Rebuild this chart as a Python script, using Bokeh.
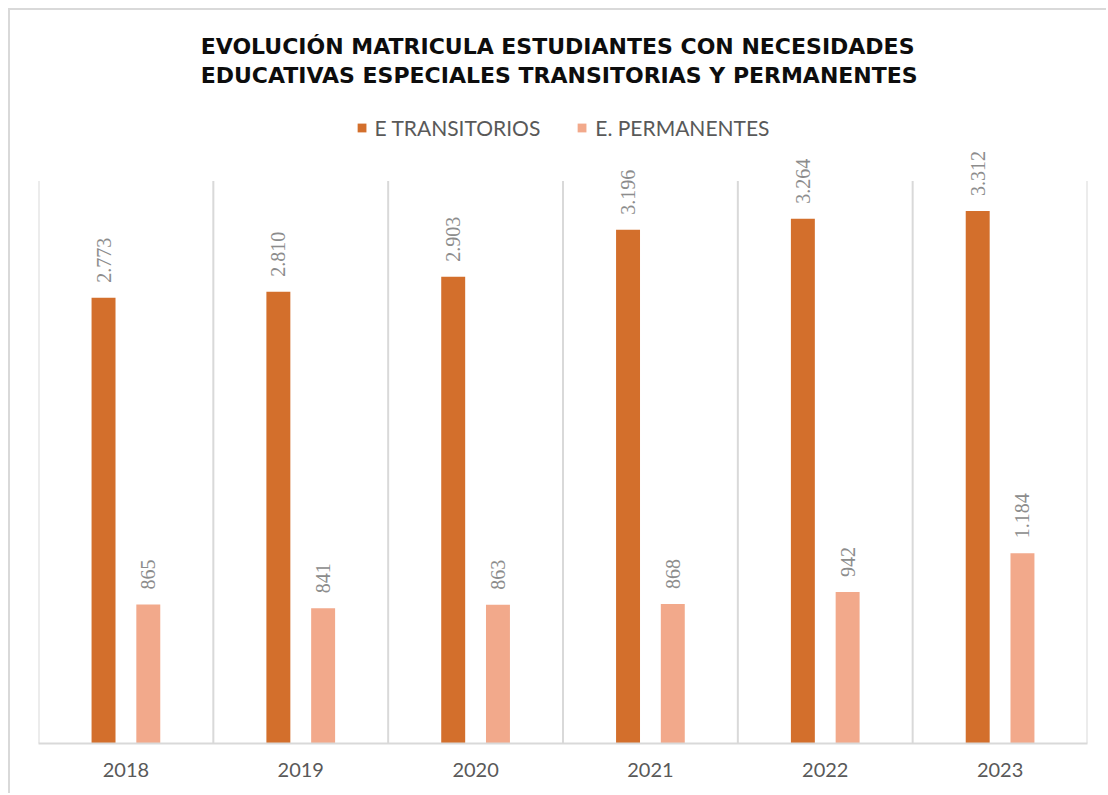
from math import pi
from bokeh.plotting import figure
from bokeh.models import (ColumnDataSource, LabelSet, Legend, LegendItem, Title,
                          FactorRange, Range1d)
from bokeh.transform import dodge
from bokeh.embed import file_html
from bokeh.resources import INLINE

# ---- data ----
years = ["2018", "2019", "2020", "2021", "2022", "2023"]
transitorios = [2773, 2810, 2903, 3196, 3264, 3312]
permanentes = [865, 841, 863, 868, 942, 1184]
series_names = ["E TRANSITORIOS", "E. PERMANENTES"]
title_lines = ["EVOLUCIÓN MATRICULA ESTUDIANTES CON NECESIDADES",
               "EDUCATIVAS ESPECIALES TRANSITORIAS Y  PERMANENTES"]
axis_max = 3500

ORANGE = "#D36F2C"
PEACH = "#F2A98B"
GRID = "#d9d9d9"
FONT = "Lato"


def fmt(v):
    return f"{v:,}".replace(",", ".")


src = ColumnDataSource(dict(
    year=years, t=transitorios, p=permanentes,
    tl=[fmt(v) for v in transitorios], pl=[fmt(v) for v in permanentes]))

p = figure(x_range=FactorRange(*years, range_padding=0),
           y_range=Range1d(0, 4000),
           width=1098, height=785, output_backend="svg", toolbar_location=None,
           title_location=None,
           min_border_left=28, min_border_right=21, min_border_bottom=52,
           min_border_top=90,
           styles={"margin-left": "8px", "margin-top": "8px",
                   "border-left": "2px solid #d9d9d9",
                   "border-top": "2px solid #d9d9d9"})

# category dividers (vertical lines between years), up to the value-axis max
bounds = list(range(len(years) + 1))
p.segment(x0=bounds, x1=bounds, y0=[0] * len(bounds), y1=[axis_max] * len(bounds),
          line_color=GRID, line_width=2)

OFF = 0.128
W = 0.137
r1 = p.vbar(x=dodge("year", -OFF, range=p.x_range), top="t", width=W,
            source=src, fill_color=ORANGE, line_color=None)
r2 = p.vbar(x=dodge("year", OFF, range=p.x_range), top="p", width=W,
            source=src, fill_color=PEACH, line_color=None)

for col, lab, off in (("t", "tl", -OFF), ("p", "pl", OFF)):
    p.add_layout(LabelSet(x=dodge("year", off, range=p.x_range), y=col, text=lab,
                          source=src, angle=pi / 2, text_align="left",
                          text_baseline="middle", y_offset=15,
                          text_color="#8c8c8c", text_font=FONT,
                          text_font_size="20px"))

p.xaxis.axis_line_color = GRID
p.xaxis.axis_line_width = 2
p.xaxis.major_tick_line_color = None
p.xaxis.major_label_text_font = FONT
p.xaxis.major_label_text_font_size = "20px"
p.xaxis.major_label_text_color = "#595959"
p.xaxis.major_label_standoff = 13
p.yaxis.visible = False
p.xgrid.grid_line_color = None
p.ygrid.grid_line_color = None
p.outline_line_color = None

legend = Legend(items=[LegendItem(label=series_names[0], renderers=[r1]),
                       LegendItem(label=series_names[1], renderers=[r2])],
                orientation="horizontal", location="top_center",
                label_text_font=FONT, label_text_font_size="21px",
                label_text_color="#595959", glyph_width=11, glyph_height=11,
                label_standoff=8, spacing=36, border_line_color=None,
                background_fill_alpha=0, margin=15, padding=5)
p.add_layout(legend, "center")

p.add_layout(Title(text="\n".join(title_lines), text_font="DejaVu Sans",
                   text_font_style="bold", text_font_size="22px",
                   text_line_height=1.15, text_color="#0d0d0d", align="center",
                   standoff=26), "above")

open("out.html", "w").write(file_html(p, INLINE))
